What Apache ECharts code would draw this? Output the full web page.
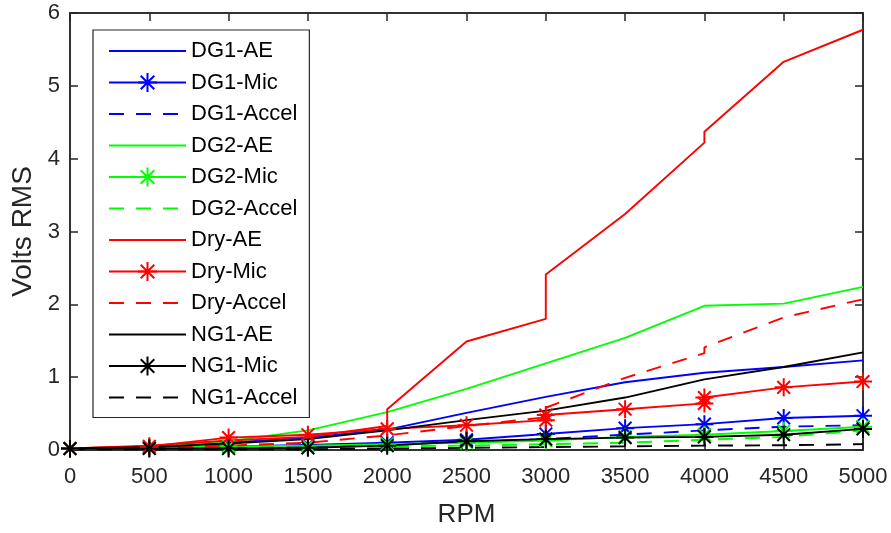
<!DOCTYPE html>
<html>
<head>
<meta charset="utf-8">
<script src="https://cdn.jsdelivr.net/npm/echarts@6/dist/echarts.min.js"></script>
<style>html,body{margin:0;padding:0;background:#fff}#c{width:891px;height:533px}</style>
</head>
<body>
<div id="c"></div>
<script>
// ---- data ----
const rpm = [0, 500, 1000, 1500, 2000, 2500, 3000, 3500, 4000, 4500, 5000];
const rpmDryAE = [0, 500, 1000, 1500, 2000, 2000, 2500, 3000, 3000, 3500, 4000, 4000, 4500, 5000];
const rpmDry = [0, 500, 1000, 1500, 2000, 2500, 3000, 3000, 3500, 4000, 4000, 4500, 5000];

const dg1AE    = [0.02, 0.05, 0.10, 0.17, 0.28, 0.51, 0.73, 0.93, 1.06, 1.14, 1.23];
const dg1Mic   = [0.02, 0.03, 0.05, 0.07, 0.10, 0.14, 0.22, 0.30, 0.355, 0.44, 0.47];
const dg1Accel = [0.02, 0.02, 0.03, 0.05, 0.08, 0.11, 0.15, 0.21, 0.27, 0.32, 0.34];
const dg2AE    = [0.02, 0.05, 0.12, 0.27, 0.52, 0.84, 1.19, 1.54, 1.98, 2.01, 2.24];
const dg2Mic   = [0.02, 0.03, 0.05, 0.06, 0.08, 0.10, 0.13, 0.18, 0.21, 0.26, 0.32];
const dg2Accel = [0.02, 0.02, 0.02, 0.03, 0.05, 0.06, 0.08, 0.10, 0.14, 0.18, 0.27];
const dryAE    = [0.02, 0.06, 0.13, 0.18, 0.33, 0.56, 1.49, 1.80, 2.41, 3.24, 4.22, 4.37, 5.33, 5.77];
const dryMic   = [0.02, 0.05, 0.17, 0.21, 0.29, 0.34, 0.41, 0.48, 0.56, 0.64, 0.72, 0.86, 0.94];
const dryAccel = [0.02, 0.03, 0.06, 0.10, 0.20, 0.33, 0.45, 0.58, 0.99, 1.33, 1.41, 1.82, 2.07];
const ng1AE    = [0.02, 0.04, 0.09, 0.15, 0.27, 0.41, 0.54, 0.72, 0.97, 1.14, 1.34];
const ng1Mic   = [0.02, 0.02, 0.02, 0.03, 0.06, 0.12, 0.15, 0.17, 0.18, 0.21, 0.29];
const ng1Accel = [0.01, 0.01, 0.01, 0.01, 0.02, 0.03, 0.04, 0.05, 0.06, 0.065, 0.08];

const xTicks = [0, 500, 1000, 1500, 2000, 2500, 3000, 3500, 4000, 4500, 5000];
const yTicks = [0, 1, 2, 3, 4, 5, 6];

// ---- build ----
const STAR = 'path://M0,-10L0,10M-10,0L10,0M-7.07,-7.07L7.07,7.07M-7.07,7.07L7.07,-7.07';
const defs = [
  ['DG1-AE', rpm, dg1AE, '#0000ff', 'solid', false],
  ['DG1-Mic', rpm, dg1Mic, '#0000ff', 'solid', true],
  ['DG1-Accel', rpm, dg1Accel, '#0000ff', 'dashed', false],
  ['DG2-AE', rpm, dg2AE, '#00ff00', 'solid', false],
  ['DG2-Mic', rpm, dg2Mic, '#00ff00', 'solid', true],
  ['DG2-Accel', rpm, dg2Accel, '#00ff00', 'dashed', false],
  ['Dry-AE', rpmDryAE, dryAE, '#ff0000', 'solid', false],
  ['Dry-Mic', rpmDry, dryMic, '#ff0000', 'solid', true],
  ['Dry-Accel', rpmDry, dryAccel, '#ff0000', 'dashed', false],
  ['NG1-AE', rpm, ng1AE, '#000000', 'solid', false],
  ['NG1-Mic', rpm, ng1Mic, '#000000', 'solid', true],
  ['NG1-Accel', rpm, ng1Accel, '#000000', 'dashed', false]
];
const series = defs.map(([name, xs, ys, color, type, star]) => ({
  name: name,
  type: 'line',
  xAxisIndex: 0,
  yAxisIndex: 0,
  data: xs.map((x, i) => [x, ys[i]]),
  symbol: star ? STAR : 'none',
  symbolSize: 18,
  showSymbol: star,
  lineStyle: { color: color, width: 1.9, type: type === 'dashed' ? [15, 12] : 'solid' },
  itemStyle: { color: color, borderColor: color, borderWidth: 2 },
  emphasis: { disabled: true },
  silent: true
}));
// empty helper series so the top/right box axes are drawn
series.push({ name: '_box', type: 'line', xAxisIndex: 1, yAxisIndex: 1, data: [], silent: true, symbol: 'none' });

const legendData = defs.map(d => d[5] ? { name: d[0] } : { name: d[0], itemStyle: { opacity: 0 } });

const axisColor = '#262626';
const font = 'Liberation Sans, Arial, Helvetica, sans-serif';
const tick = { show: true, inside: true, length: 8, lineStyle: { color: axisColor, width: 1.5 } };
const line = { show: true, onZero: false, lineStyle: { color: axisColor, width: 1.5 } };
const chart = echarts.init(document.getElementById('c'), null, { renderer: 'canvas' });
chart.setOption({
  animation: false,
  backgroundColor: '#ffffff',
  grid: { left: 70, right: 28, top: 13, bottom: 80, containLabel: false,
          show: true, borderColor: axisColor, borderWidth: 1.5, backgroundColor: 'transparent' },
  legend: {
    orient: 'vertical',
    left: 93,
    top: 30,
    padding: [10, 12, 9, 15],
    itemWidth: 77,
    itemHeight: 24,
    itemGap: 9.5,
    backgroundColor: '#ffffff',
    borderColor: axisColor,
    borderWidth: 1.2,
    textStyle: { fontFamily: font, fontSize: 22, color: '#000000' },
    data: legendData
  },
  xAxis: [{
    type: 'value', min: 0, max: 5000, interval: 500, position: 'bottom',
    name: 'RPM', nameLocation: 'middle', nameGap: 52,
    nameTextStyle: { fontFamily: font, fontSize: 26, color: axisColor },
    axisLine: line, axisTick: tick,
    axisLabel: { fontFamily: font, fontSize: 22, color: axisColor, margin: 16,
      formatter: v => xTicks.includes(v) ? String(v) : '' },
    splitLine: { show: false }
  }, {
    type: 'value', min: 0, max: 5000, interval: 500, position: 'top',
    axisLine: line, axisTick: tick,
    axisLabel: { show: false }, splitLine: { show: false }
  }],
  yAxis: [{
    type: 'value', min: 0, max: 6, interval: 1, position: 'left',
    name: 'Volts RMS', nameLocation: 'middle', nameGap: 33,
    nameTextStyle: { fontFamily: font, fontSize: 28, color: axisColor },
    axisLine: line, axisTick: tick,
    axisLabel: { fontFamily: font, fontSize: 22, color: axisColor, margin: 10,
      formatter: v => yTicks.includes(v) ? String(v) : '' },
    splitLine: { show: false }
  }, {
    type: 'value', min: 0, max: 6, interval: 1, position: 'right',
    axisLine: line, axisTick: tick,
    axisLabel: { show: false }, splitLine: { show: false }
  }],
  series: series
});
</script>
</body>
</html>
